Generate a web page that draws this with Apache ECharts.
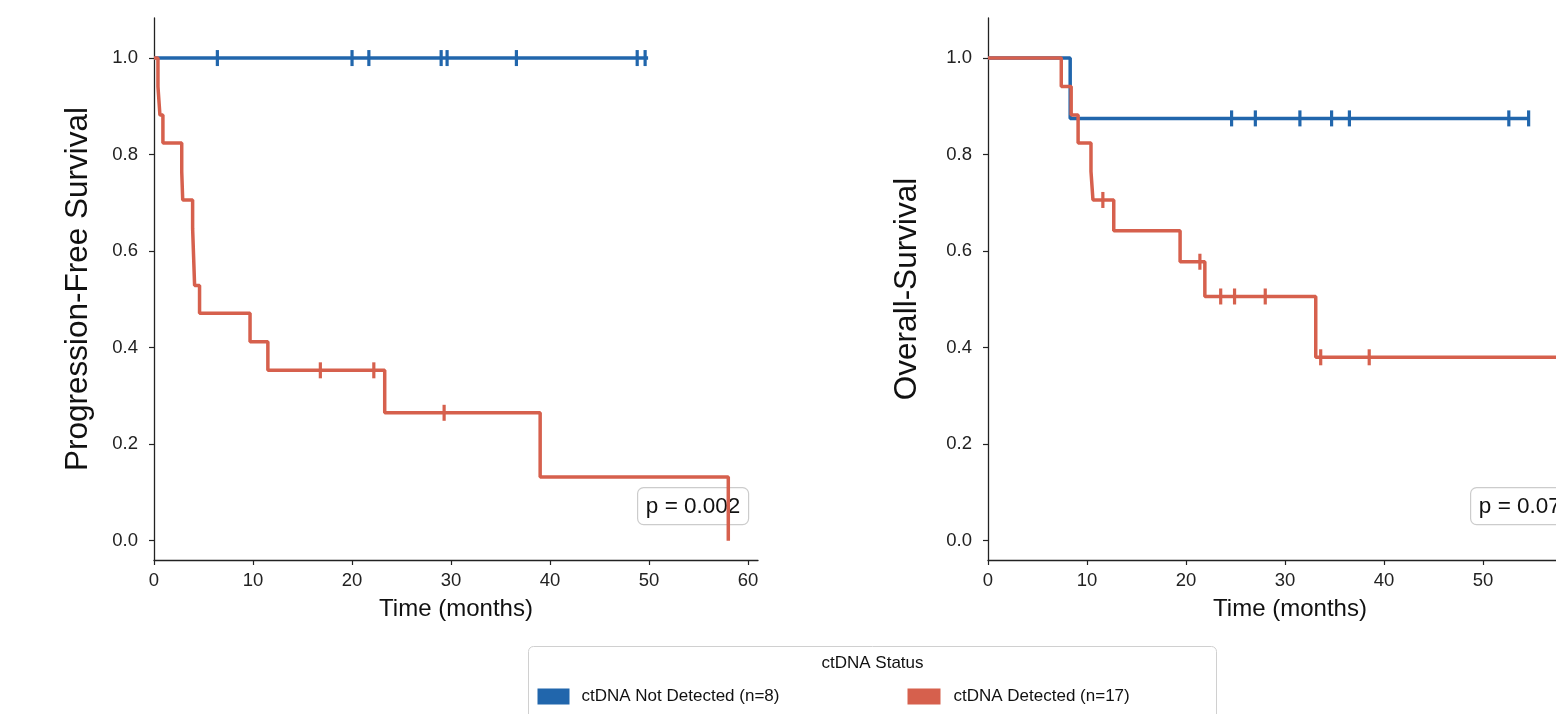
<!DOCTYPE html>
<html>
<head>
<meta charset="utf-8">
<script src="https://cdn.jsdelivr.net/npm/echarts@6/dist/echarts.min.js"></script>
<style>
  html, body { margin: 0; padding: 0; background: #fff; overflow: hidden; }
  /* the right panel runs past the window edge, as in the original figure */
  #km { width: 1610px; height: 714px; }
</style>
</head>
<body>
<div id="km"></div>
<script>
// Kaplan-Meier curves, ctDNA status

var groupNames = ['ctDNA Not Detected (n=8)', 'ctDNA Detected (n=17)'];
var xTicks = [0, 10, 20, 30, 40, 50, 60];
var yTicks = [0, 0.2, 0.4, 0.6, 0.8, 1.0];

// progression-free survival
var pfsNdTimes = [0, 49.9];
var pfsNdSurv = [1, 1];
var pfsNdCensorT = [6.4, 20.0, 21.7, 29.0, 29.6, 36.6, 48.8, 49.6];
var pfsNdCensorS = [1, 1, 1, 1, 1, 1, 1, 1];

var pfsDTimes = [0, 0.4, 0.6, 0.9, 2.8, 2.9, 3.9, 4.0, 4.1, 4.6, 9.7, 11.5, 23.3, 39.0, 58.0];
var pfsDSurv = [1, 0.941, 0.882, 0.824, 0.765, 0.706, 0.647, 0.588, 0.529, 0.471, 0.412, 0.353, 0.265, 0.132, 0];
var pfsDCensorT = [16.8, 22.2, 29.3];
var pfsDCensorS = [0.353, 0.353, 0.265];

// overall survival
var osNdTimes = [0, 8.3, 54.6];
var osNdSurv = [1, 0.875, 0.875];
var osNdCensorT = [24.6, 27.0, 31.5, 34.7, 36.5, 52.6, 54.6];
var osNdCensorS = [0.875, 0.875, 0.875, 0.875, 0.875, 0.875, 0.875];

var osDTimes = [0, 7.4, 8.4, 9.1, 10.4, 10.6, 12.7, 19.4, 21.9, 33.1, 59.0];
var osDSurv = [1, 0.941, 0.882, 0.824, 0.765, 0.706, 0.642, 0.578, 0.506, 0.380, 0.380];
var osDCensorT = [11.6, 21.4, 23.5, 24.9, 28.0, 33.6, 38.5];
var osDCensorS = [0.706, 0.578, 0.506, 0.506, 0.506, 0.380, 0.380];

var pTexts = ['p = 0.002', 'p = 0.073'];

var blue = '#2166ac';
var red = '#d6604d';
var ink = '#222';
var font = 'Liberation Sans, Arial, sans-serif';

function pairs(a, b) {
  return a.map(function (v, i) { return [v, b[i]]; });
}

function xAx(idx) {
  return {
    type: 'value', gridIndex: idx, min: 0, max: 61,
    name: 'Time (months)', nameLocation: 'middle', nameGap: 37,
    nameTextStyle: { fontSize: 24, color: '#111', fontFamily: font },
    axisLine: { onZero: false, lineStyle: { color: ink, width: 1.3 } },
    axisTick: { customValues: xTicks, length: 5, lineStyle: { color: ink, width: 1.2 } },
    axisLabel: { customValues: xTicks, margin: 11, fontSize: 18.5, color: ink, fontFamily: font },
    splitLine: { show: false }
  };
}

function yAx(idx, title, gap) {
  return {
    type: 'value', gridIndex: idx, min: -0.04, max: 1.083,
    name: title, nameLocation: 'middle', nameGap: gap, nameRotate: 90,
    nameTextStyle: { fontSize: 31.5, color: '#111', fontFamily: font },
    axisLine: { show: true, onZero: false, lineStyle: { color: ink, width: 1.3 } },
    axisTick: { show: true, customValues: yTicks, length: 5, lineStyle: { color: ink, width: 1.2 } },
    axisLabel: {
      customValues: yTicks, margin: 16, fontSize: 18.5, color: ink, fontFamily: font,
      formatter: function (v) { return v.toFixed(1); }
    },
    splitLine: { show: false }
  };
}

function curve(idx, name, color, times, surv) {
  return {
    type: 'line', name: name, xAxisIndex: idx, yAxisIndex: idx,
    step: 'end', symbol: 'none', z: name === groupNames[1] ? 4 : 3,
    lineStyle: { color: color, width: 3.5 },
    itemStyle: { color: color },
    data: pairs(times, surv)
  };
}

function censor(idx, name, color, times, surv) {
  return {
    type: 'scatter', name: name, xAxisIndex: idx, yAxisIndex: idx,
    symbol: 'rect', symbolSize: [3.2, 16], z: name === groupNames[1] ? 5 : 3,
    itemStyle: { color: color, opacity: 1 },
    data: pairs(times, surv)
  };
}

function pBox(x, text) {
  return {
    type: 'group', left: x, top: 487, z: 100,
    children: [
      { type: 'rect', shape: { x: 0, y: 0, width: 111, height: 37, r: 6 },
        style: { fill: 'rgba(255,255,255,0.8)', stroke: '#cccccc', lineWidth: 1.2 } },
      { type: 'text', x: 55.5, y: 19,
        style: { text: text, font: '22.5px ' + font, fill: '#111',
                 align: 'center', verticalAlign: 'middle' } }
    ]
  };
}

var chart = echarts.init(document.getElementById('km'));

var option = {
  animation: false,
  backgroundColor: '#fff',
  grid: [
    { left: 154, top: 18, width: 604, height: 542 },
    { left: 988, top: 18, width: 604, height: 542 }
  ],
  xAxis: [xAx(0), xAx(1)],
  yAxis: [yAx(0, 'Progression-Free Survival', 60), yAx(1, 'Overall-Survival', 65)],
  series: [
    curve(0, groupNames[0], blue, pfsNdTimes, pfsNdSurv),
    censor(0, groupNames[0], blue, pfsNdCensorT, pfsNdCensorS),
    curve(0, groupNames[1], red, pfsDTimes, pfsDSurv),
    censor(0, groupNames[1], red, pfsDCensorT, pfsDCensorS),
    curve(1, groupNames[0], blue, osNdTimes, osNdSurv),
    censor(1, groupNames[0], blue, osNdCensorT, osNdCensorS),
    curve(1, groupNames[1], red, osDTimes, osDSurv),
    censor(1, groupNames[1], red, osDCensorT, osDCensorS)
  ],
  graphic: [
    pBox(637, pTexts[0]),
    pBox(1470, pTexts[1]),
    // legend box
    {
      type: 'group', left: 528, top: 646, z: 100,
      children: [
        { type: 'rect', shape: { x: 0, y: 0, width: 688, height: 90, r: 5 },
          style: { fill: '#fff', stroke: '#d0d0d0', lineWidth: 1 } },
        { type: 'text', x: 344, y: 17,
          style: { text: 'ctDNA Status', font: '17px ' + font, fill: '#111',
                   align: 'center', verticalAlign: 'middle' } },
        { type: 'rect', shape: { x: 9, y: 42, width: 32, height: 16 }, style: { fill: blue } },
        { type: 'text', x: 53, y: 50,
          style: { text: groupNames[0], font: '17px ' + font, fill: '#111', verticalAlign: 'middle' } },
        { type: 'rect', shape: { x: 379, y: 42, width: 33, height: 16 }, style: { fill: red } },
        { type: 'text', x: 425, y: 50,
          style: { text: groupNames[1], font: '17px ' + font, fill: '#111', verticalAlign: 'middle' } }
      ]
    }
  ]
};

chart.setOption(option);
</script>
</body>
</html>
